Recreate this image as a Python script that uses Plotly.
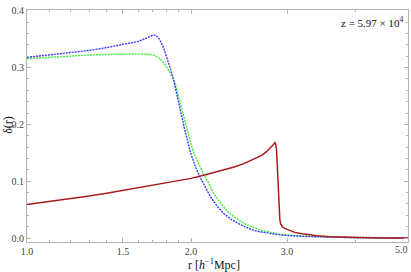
import plotly.graph_objects as go

# ---- data ----
blue_r = [1.0, 1.1, 1.2, 1.3, 1.4, 1.5, 1.6, 1.65, 1.69, 1.72, 1.75, 1.78, 1.8, 1.83, 1.86, 1.9,
          1.95, 2.0, 2.04, 2.08, 2.12, 2.17, 2.23, 2.29, 2.37, 2.46, 2.55, 2.64, 2.8, 2.95, 3.2,
          3.5, 4.0, 4.5, 5.0]
blue_d = [0.318, 0.322, 0.326, 0.330, 0.335, 0.340, 0.346, 0.351, 0.356, 0.357, 0.350, 0.335,
          0.322, 0.300, 0.276, 0.235, 0.188, 0.147, 0.124, 0.106, 0.090, 0.073, 0.057, 0.044,
          0.033, 0.024, 0.017, 0.012, 0.008, 0.005, 0.003, 0.0015, 0.0006, 0.0002, 0.0001]

green_r = [1.0, 1.1, 1.2, 1.3, 1.4, 1.5, 1.6, 1.68, 1.72, 1.75, 1.78, 1.81, 1.84, 1.87, 1.91,
           1.96, 2.0, 2.03, 2.07, 2.11, 2.15, 2.2, 2.26, 2.33, 2.41, 2.5, 2.58, 2.68, 2.8, 2.95,
           3.2, 3.5, 4.0, 4.5, 5.0]
green_d = [0.3155, 0.318, 0.320, 0.322, 0.323, 0.324, 0.324, 0.323, 0.321, 0.316, 0.309, 0.299,
           0.287, 0.272, 0.238, 0.196, 0.165, 0.146, 0.128, 0.112, 0.098, 0.079, 0.063, 0.047,
           0.036, 0.026, 0.020, 0.014, 0.010, 0.006, 0.0035, 0.002, 0.0008, 0.0003, 0.0001]

red_r = [1.0, 1.1, 1.2, 1.3, 1.4, 1.5, 1.6, 1.7, 1.8, 1.9, 2.0, 2.1, 2.2, 2.3, 2.4, 2.5, 2.6,
         2.7, 2.75, 2.8, 2.83, 2.85, 2.86, 2.87, 2.88, 2.89, 2.9, 2.91, 2.92, 2.94, 2.97, 3.02,
         3.1, 3.2, 3.4, 3.6, 4.0, 4.5, 5.0]
red_d = [0.059, 0.064, 0.069, 0.074, 0.079, 0.084, 0.088, 0.093, 0.097, 0.101, 0.105, 0.110,
         0.115, 0.120, 0.125, 0.131, 0.138, 0.146, 0.152, 0.159, 0.164, 0.168, 0.165, 0.155,
         0.125, 0.088, 0.055, 0.033, 0.025, 0.020, 0.017, 0.014, 0.010, 0.0075, 0.004, 0.0022,
         0.0008, 0.0003, 0.0001]

x_major = [1.0, 1.5, 2.0, 3.0, 5.0]
x_major_text = ["1.0", "1.5", "2.0", "3.0", ""]
x_last_label = "5.0"
x_minor = [1.1, 1.2, 1.3, 1.4, 1.6, 1.7, 1.8, 1.9, 4.0]
y_major = [0.0, 0.1, 0.2, 0.3, 0.4]
y_major_text = ["0.0", "0.1", "0.2", "0.3", "0.4"]
y_minor = [0.02, 0.04, 0.06, 0.08, 0.12, 0.14, 0.16, 0.18, 0.22, 0.24, 0.26, 0.28,
           0.32, 0.34, 0.36, 0.38]

FONT = "Liberation Serif, Times New Roman, Times, serif"
TICKFONT = dict(family=FONT, size=10, color="#444444")

fig = go.Figure()
fig.add_trace(go.Scatter(x=green_r, y=green_d, mode="lines",
                         line=dict(color="#3cf03c", width=1.4, dash="2px,1px")))
fig.add_trace(go.Scatter(x=blue_r, y=blue_d, mode="lines",
                         line=dict(color="#3a3aff", width=1.4, dash="2px,1px")))
fig.add_trace(go.Scatter(x=red_r, y=red_d, mode="lines",
                         line=dict(color="#a81c1c", width=1.5)))

axis_common = dict(showline=True, mirror="ticks", linecolor="#b4b4b4", linewidth=1,
                   ticks="inside", tickcolor="#b4b4b4", ticklen=4, tickwidth=1,
                   showgrid=False, zeroline=False, automargin=False,
                   ticklabeloverflow="allow", tickfont=TICKFONT)

fig.update_xaxes(type="log", range=[0, 0.69905], tickmode="array",
                 tickvals=x_major, ticktext=x_major_text,
                 minor=dict(tickvals=x_minor, ticks="inside", ticklen=2,
                            tickcolor="#b4b4b4", showgrid=False),
                 **axis_common)
fig.update_yaxes(range=[-0.0069, 0.4012], tickmode="array",
                 tickvals=y_major, ticktext=y_major_text,
                 minor=dict(tickvals=y_minor, ticks="inside", ticklen=2,
                            tickcolor="#b4b4b4", showgrid=False),
                 **axis_common)

fig.update_layout(
    width=411, height=272,
    margin=dict(l=27, r=3, t=10, b=30, pad=0),
    paper_bgcolor="white", plot_bgcolor="white",
    showlegend=False,
    font=dict(family=FONT, color="#222222"),
    annotations=[
        dict(text="z = 5.97 × 10<sup>4</sup>", xref="paper", yref="paper",
             x=0.995, y=0.95, xanchor="right", yanchor="middle", showarrow=False,
             font=dict(family=FONT, size=11, color="#111111")),
        dict(text="r [<i>h</i><sup>−1</sup>Mpc]", xref="paper", yref="paper",
             x=0.49, y=-0.097, xanchor="center", yanchor="middle", showarrow=False,
             font=dict(family=FONT, size=12, color="#111111")),
        dict(text="δ(r)", xref="paper", yref="paper", textangle=-90,
             x=-0.05, y=0.505, xanchor="center", yanchor="middle", showarrow=False,
             font=dict(family=FONT, size=12, color="#111111")),
        dict(text=x_last_label, xref="paper", yref="paper",
             x=1.006, y=-0.034, xanchor="right", yanchor="middle", showarrow=False,
             font=TICKFONT),
    ],
)

fig.write_html("out.html", config={"displayModeBar": False},
               post_script="document.body.style.margin='0';document.body.style.padding='0';")
